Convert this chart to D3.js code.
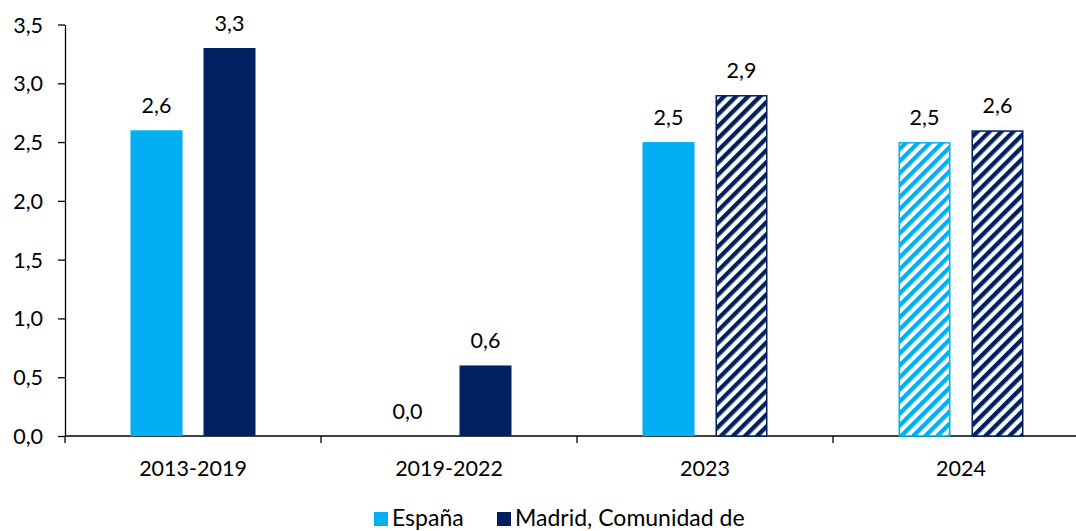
<!DOCTYPE html>
<html><head><meta charset="utf-8">
<script src="https://cdn.jsdelivr.net/npm/d3@7"></script>
<style>body{margin:0;background:#fff}svg{display:block}text{font-family:Lato,"Open Sans",sans-serif;fill:#000}</style>
</head><body><div id="chart"></div>
<script>
const categories = ["2013-2019","2019-2022","2023","2024"];
const seriesNames = ["España","Madrid, Comunidad de"];
const espana = [2.6, 0.0, 2.5, 2.5];
const madrid = [3.3, 0.6, 2.9, 2.6];
const espanaHatched = [false, false, false, true];
const madridHatched = [false, false, true, true];
const yTicks = [0,0.5,1,1.5,2,2.5,3,3.5];
const colors = ["#00B0F0","#002060"];

const W=1076,H=531,FS=21.5;
const svg=d3.select("#chart").append("svg").attr("width",W).attr("height",H);
const defs=svg.append("defs");
colors.forEach((c,i)=>{
  const p=defs.append("pattern").attr("id","hatch"+i).attr("patternUnits","userSpaceOnUse")
    .attr("width",8.5).attr("height",8.5).attr("patternTransform","rotate(45)");
  p.append("rect").attr("width",8.5).attr("height",8.5).attr("fill","#fff");
  p.append("rect").attr("x",0).attr("y",0).attr("width",4.3).attr("height",8.5).attr("fill",c);
});

const x0=d3.scaleBand().domain(categories).range([65,65+256*4]).paddingInner(0).paddingOuter(0);
const y=d3.scaleLinear().domain([0,3.5]).range([436,24.5]);
const fmt=v=>d3.format(".1f")(v).replace(".",",");

// y axis
const ya=svg.append("g").attr("transform","translate(65,0)")
  .call(d3.axisLeft(y).tickValues(yTicks).tickSize(7).tickSizeOuter(0).tickFormat(fmt));
ya.select(".domain").attr("stroke","#000").attr("stroke-width",1.3);
ya.selectAll(".tick line").attr("stroke","#000").attr("stroke-width",1.3);
ya.selectAll(".tick text").attr("font-size",FS).attr("x",-22).attr("dy","0.35em").style("font-family","Lato,sans-serif");

// x axis
const xa=svg.append("g").attr("transform","translate(0,436)");
xa.append("line").attr("x1",65).attr("x2",W).attr("stroke","#000").attr("stroke-width",1.3);
categories.concat(["_end"]).forEach((c,i)=>{
  const xx=65+i*x0.bandwidth();
  xa.append("line").attr("x1",xx).attr("x2",xx).attr("y1",0).attr("y2",7).attr("stroke","#000").attr("stroke-width",1.3);
});
xa.selectAll("text.cat").data(categories).enter().append("text").attr("class","cat")
  .attr("x",d=>x0(d)+x0.bandwidth()/2).attr("y",40).attr("text-anchor","middle").attr("font-size",FS).text(d=>d);

// bars
const barW=52, offsets=[-36.5,36.5];
const series=[{vals:espana,hat:espanaHatched},{vals:madrid,hat:madridHatched}];
series.forEach((s,si)=>{
  const g=svg.append("g");
  s.vals.forEach((v,i)=>{
    const cx=x0(categories[i])+x0.bandwidth()/2+offsets[si];
    if(v>0){
      if(s.hat[i]){
        g.append("rect").attr("x",cx-barW/2+0.75).attr("y",y(v)+0.75).attr("width",barW-1.5).attr("height",y(0)-y(v)-0.75)
          .attr("fill","url(#hatch"+si+")").attr("stroke",colors[si]).attr("stroke-width",1.5);
      } else {
        g.append("rect").attr("x",cx-barW/2).attr("y",y(v)).attr("width",barW).attr("height",y(0)-y(v)).attr("fill",colors[si]);
      }
    }
    g.append("text").attr("x",si===0&&v===0?cx-5:cx).attr("y",y(v)-17.5).attr("text-anchor","middle").attr("font-size",FS).text(fmt(v));
  });
});

// legend
const leg=svg.append("g");
const items=[{x:374,name:seriesNames[0],c:colors[0]},{x:497,name:seriesNames[1],c:colors[1]}];
items.forEach(it=>{
  leg.append("rect").attr("x",it.x).attr("y",512).attr("width",14).attr("height",14).attr("fill",it.c);
  leg.append("text").attr("x",it.x+18).attr("y",526).attr("font-size",23).text(it.name);
});
</script></body></html>
